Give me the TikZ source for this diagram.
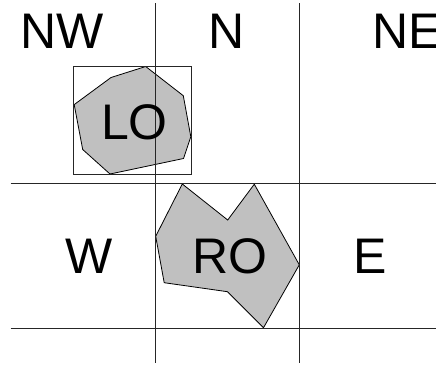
\documentclass[tikz,border=0pt]{standalone}
\usepackage{fontspec}
\setmainfont{Liberation Sans}
\begin{document}
\begin{tikzpicture}[x=1pt,y=-1pt,
  region/.style={draw=black,line width=0.8pt,fill={rgb,255:red,192;green,192;blue,192},line join=miter},
  gridline/.style={draw=black!85,line width=0.8pt},
  lbl/.style={inner sep=0pt,outer sep=0pt,font=\fontsize{50}{60}\selectfont,anchor=base}]
\useasboundingbox (0,0) rectangle (436,365);
% LO region
\path[region] (145.7,66.5) -- (183.3,95.7) -- (190.8,136.7) -- (183.5,158.5) -- (110,174) -- (82.7,149.5) -- (74.2,104.6) -- (111,77.5) -- cycle;
% RO region
\path[region] (182.3,184) -- (227.7,220) -- (254.3,184.2) -- (299.3,264.8) -- (263.5,327.7) -- (227.5,291.7) -- (164.2,282.7) -- (155.7,236.3) -- cycle;
% bounding box of LO
\draw[gridline] (73.7,66) rectangle (191.3,174.3);
% grid lines
\draw[gridline] (155,3.3) -- (155,363);
\draw[gridline] (299.5,3.3) -- (299.5,363);
\draw[gridline] (10.7,183.5) -- (436,183.5);
\draw[gridline] (10.7,328.3) -- (436,328.3);
% labels
\node[lbl] (nw) at (61.7,48.3) {NW};
\node[lbl] (n) at (226.7,48.3) {N};
\node[lbl,anchor=base west] (ne) at (372.5,48.3) {NE};
\node[lbl] (lo) at (134.5,139) {LO};
\node[lbl] (w) at (88.7,273.3) {W};
\node[lbl] (ro) at (230,273.3) {RO};
\node[lbl] (e) at (370,273.3) {E};
\end{tikzpicture}
\end{document}
